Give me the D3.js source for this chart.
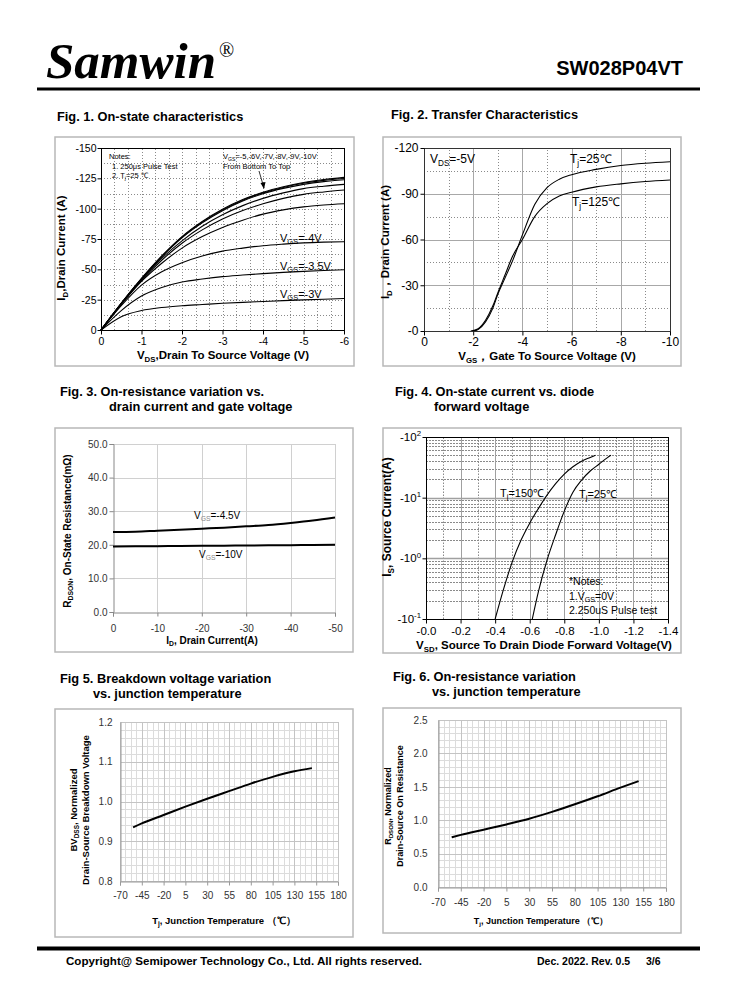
<!DOCTYPE html>
<html><head><meta charset="utf-8">
<script src="https://cdn.jsdelivr.net/npm/d3@7"></script>
<style>body{margin:0;background:#fff} svg{display:block}</style>
</head><body><script>
// ---------------- DATA ----------------
// Fig 1: On-state characteristics
const fig1Vds = [0,-0.5,-1,-1.5,-2,-2.5,-3,-3.5,-4,-4.5,-5,-5.5,-6];
const fig1IdVgs3   = [0,-11,-16,-18.5,-20,-21,-22,-22.8,-23.5,-24.2,-24.8,-25.4,-26];
const fig1IdVgs3p5 = [0,-16,-28,-35,-39.5,-42,-44,-45.3,-46.5,-47.5,-48.3,-49,-49.6];
const fig1IdVgs4   = [0,-20,-37,-48,-55.5,-61,-65,-67.5,-69.5,-70.8,-71.8,-72.4,-72.8];
const fig1IdVgs5   = [0,-21,-40,-55,-67.5,-77,-84.5,-90.5,-95.5,-99,-101.5,-103,-104];
const fig1IdVgs6   = [0,-21.5,-41,-57.5,-71.5,-82.5,-91.5,-98.5,-104,-108.5,-111.8,-113.8,-115.4];
const fig1IdVgs7   = [0,-21.8,-41.5,-59,-73.5,-85.5,-95,-102.5,-108.5,-113,-116.5,-118.5,-120];
const fig1IdVgs8   = [0,-22,-42,-60.3,-76,-88.3,-98.3,-106.3,-112.3,-116.7,-120,-122.3,-123.8];
const fig1IdVgs9   = [0,-22,-42.3,-60.7,-76.5,-89,-99,-107,-113,-117.5,-121,-123.3,-124.8];
const fig1IdVgs10  = [0,-22,-42.5,-61,-77,-89.5,-99.5,-107.5,-113.5,-118,-121.5,-124,-125.8];
const fig1XTicks = [0,-1,-2,-3,-4,-5,-6];
const fig1YTicks = [0,-25,-50,-75,-100,-125,-150];

// Fig 2: Transfer characteristics
const fig2Vgs25  = [-2,-2.2,-2.5,-2.8,-3,-3.3,-3.6,-4,-4.5,-5,-5.5,-6,-7,-8,-9,-10];
const fig2Id25   = [0,-1,-6,-15,-24,-35,-46,-63,-83,-94,-99.5,-102.5,-106,-108.5,-110,-111];
const fig2Vgs125 = [-1.9,-2.2,-2.5,-2.8,-3,-3.3,-3.6,-4,-4.5,-5,-5.5,-6,-7,-8,-9,-10];
const fig2Id125  = [0,-1.5,-7,-16.5,-25,-37,-49,-60,-75,-83.5,-88.5,-91,-94.5,-96.5,-98,-99];
const fig2XTicks = [0,-2,-4,-6,-8,-10];
const fig2YTicks = [0,-30,-60,-90,-120];

// Fig 3: On-resistance vs drain current
const fig3Id    = [0,-5,-10,-15,-20,-25,-30,-35,-40,-45,-50];
const fig3RVgs45 = [23.8,23.9,24.2,24.5,24.8,25.1,25.5,25.9,26.5,27.2,28.1];
const fig3RVgs10 = [19.5,19.55,19.6,19.65,19.7,19.75,19.8,19.85,19.9,19.95,20.0];
const fig3XTicks = [0,-10,-20,-30,-40,-50];
const fig3YTicks = [0,10,20,30,40,50];

// Fig 4: Diode forward characteristics
const fig4Vsd150 = [-0.4,-0.45,-0.5,-0.55,-0.6,-0.65,-0.7,-0.75,-0.8,-0.85,-0.9,-0.95,-0.98];
const fig4Is150  = [-0.1,-0.32,-0.89,-2.0,-3.8,-6.6,-11,-17,-24.5,-32.4,-40,-46,-50];
const fig4Vsd25  = [-0.615,-0.65,-0.7,-0.75,-0.8,-0.85,-0.9,-0.95,-1.0,-1.05,-1.07];
const fig4Is25   = [-0.1,-0.28,-0.93,-2.45,-6.0,-12.3,-19.5,-27.5,-35.5,-45.7,-50];
const fig4XTicks = [0,-0.2,-0.4,-0.6,-0.8,-1.0,-1.2,-1.4];
const fig4YTicks = [-0.1,-1,-10,-100];
const fig4YExp   = ["-1","0","1","2"];

// Fig 5: Breakdown voltage vs Tj
const fig5Tj = [-55,-45,-20,5,30,55,80,105,130,150];
const fig5BV = [0.935,0.945,0.966,0.987,1.007,1.026,1.045,1.062,1.076,1.084];
const fig5XTicks = [-70,-45,-20,5,30,55,80,105,130,155,180];
const fig5YTicks = [0.8,0.9,1.0,1.1,1.2];

// Fig 6: On-resistance vs Tj
const fig6Tj = [-55,-45,-20,5,30,55,80,105,130,150];
const fig6R  = [0.745,0.78,0.858,0.937,1.022,1.125,1.238,1.358,1.487,1.585];
const fig6XTicks = [-70,-45,-20,5,30,55,80,105,130,155,180];
const fig6YTicks = [0,0.5,1.0,1.5,2.0,2.5];

// ---------------- HELPERS ----------------
const SANS = 'Arial, "Liberation Sans", sans-serif';
const SERIF = '"Liberation Serif", "Times New Roman", serif';
const svg = d3.select('body').append('svg').attr('width',738).attr('height',1000).attr('font-family',SANS);

function rich(parent, x, y, parts, size, o={}) {
  const t = parent.append('text').attr('x',x).attr('y',y).attr('font-size',size)
    .attr('font-weight', o.bold ? 'bold' : 'normal')
    .attr('text-anchor', o.anchor || 'start').attr('fill', o.fill || '#000');
  if (o.rotate) t.attr('transform', `rotate(-90,${x},${y})`);
  let shift = 0;
  parts.forEach(p => {
    const arr = typeof p === 'string' ? [p, null, null] : p;
    const ts = t.append('tspan').text(arr[0]);
    const target = arr[1] === 'sub' ? size*0.22 : arr[1] === 'sup' ? -size*0.4 : 0;
    if (target - shift !== 0) ts.attr('dy', target - shift);
    shift = target;
    if (arr[1]) ts.attr('font-size', size*0.68);
    if (arr[2]) ts.attr('fill', arr[2]);
  });
  return t;
}
function title(x,y,s){ svg.append('text').attr('x',x).attr('y',y).attr('font-size',12.8).attr('font-weight','bold').text(s); }
function box(b){
  svg.append('rect').attr('x',b[0]).attr('y',b[1]).attr('width',b[2]-b[0]).attr('height',b[3]-b[1])
    .attr('fill','none').attr('stroke','#b8b8b8').attr('stroke-width',1.5);
}
function vgrid(g,x,y,vals,stroke,dash,w){
  g.append('g').selectAll('line').data(vals).join('line')
    .attr('x1',d=>Math.round(x(d))+0.5).attr('x2',d=>Math.round(x(d))+0.5)
    .attr('y1',y.range()[0]).attr('y2',y.range()[1])
    .attr('stroke',stroke).attr('stroke-width',w||1).attr('stroke-dasharray',dash||null);
}
function hgrid(g,x,y,vals,stroke,dash,w){
  g.append('g').selectAll('line').data(vals).join('line')
    .attr('y1',d=>Math.round(y(d))+0.5).attr('y2',d=>Math.round(y(d))+0.5)
    .attr('x1',x.range()[0]).attr('x2',x.range()[1])
    .attr('stroke',stroke).attr('stroke-width',w||1).attr('stroke-dasharray',dash||null);
}
function styleAxis(ag,size,color,tickColor){
  ag.attr('font-family',SANS);
  ag.selectAll('text').attr('font-size',size).attr('fill',color||'#000');
  ag.selectAll('line').attr('stroke',tickColor||'#000');
}
function curve(g,x,y,xs,ys,w,c){
  const line = d3.line().x(d=>x(d[0])).y(d=>y(d[1])).curve(d3.curveMonotoneX);
  g.append('path').datum(d3.zip(xs,ys)).attr('d',line).attr('fill','none')
    .attr('stroke',c||'#000').attr('stroke-width',w).attr('stroke-linejoin','round');
}
const fmtInt = d => String(d);

// ---------------- HEADER / FOOTER ----------------
svg.append('text').attr('x',46).attr('y',78).attr('font-size',50).attr('font-weight','bold').attr('font-style','italic')
  .attr('font-family',SERIF).attr('textLength',170).attr('lengthAdjust','spacingAndGlyphs').text('Samwin');
svg.append('text').attr('x',219).attr('y',57).attr('font-size',20).attr('font-family',SERIF).text('®');
svg.append('text').attr('x',683).attr('y',75).attr('font-size',20).attr('font-weight','bold').attr('text-anchor','end').text('SW028P04VT');
svg.append('line').attr('x1',37).attr('x2',700).attr('y1',89).attr('y2',89).attr('stroke','#000').attr('stroke-width',3);
svg.append('line').attr('x1',37).attr('x2',700).attr('y1',948.5).attr('y2',948.5).attr('stroke','#000').attr('stroke-width',4);
svg.append('text').attr('x',66).attr('y',965).attr('font-size',11.6).attr('font-weight','bold').text('Copyright@ Semipower Technology Co., Ltd. All rights reserved.');
svg.append('text').attr('x',537).attr('y',965).attr('font-size',10.5).attr('font-weight','bold').text('Dec. 2022. Rev. 0.5');
svg.append('text').attr('x',646).attr('y',965).attr('font-size',10.5).attr('font-weight','bold').text('3/6');

// ---------------- FIG 1 ----------------
{
  title(57,121,'Fig. 1. On-state characteristics');
  box([55,137,354,366]);
  const g = svg.append('g');
  const x = d3.scaleLinear().domain([0,-6]).range([101,344]);
  const y = d3.scaleLinear().domain([0,-150]).range([330,148]);
  vgrid(g,x,y,d3.range(1,18).map(i=>-i/3),'#8a8a8a','1,2');
  hgrid(g,x,y,d3.range(1,12).map(i=>-i*12.5),'#8a8a8a','1,2');
  [fig1IdVgs3,fig1IdVgs3p5,fig1IdVgs4,fig1IdVgs5,fig1IdVgs6,fig1IdVgs7,fig1IdVgs8,fig1IdVgs9,fig1IdVgs10]
    .forEach(s => curve(g,x,y,fig1Vds,s,1.1));
  g.append('rect').attr('x',101.5).attr('y',148.5).attr('width',243).attr('height',182).attr('fill','none').attr('stroke','#000');
  const ay = g.append('g').attr('transform','translate(101.5,0)').call(d3.axisLeft(y).tickValues(fig1YTicks).tickSize(4).tickPadding(1).tickFormat(fmtInt));
  ay.select('.domain').remove(); styleAxis(ay,10.5);
  const ax = g.append('g').attr('transform','translate(0,330.5)').call(d3.axisBottom(x).tickValues(fig1XTicks).tickSize(4).tickPadding(3).tickFormat(fmtInt));
  ax.select('.domain').remove(); styleAxis(ax,10.5);
  rich(g,65,248,['I',['D','sub'],',Drain Current (A)'],11.5,{bold:true,anchor:'middle',rotate:true});
  rich(g,223,359,['V',['DS','sub'],',Drain To Source Voltage (V)'],11.5,{bold:true,anchor:'middle'});
  rich(g,109,159,['Notes:'],7.5);
  rich(g,112,168.5,['1. 250μs  Pulse Test'],7.5);
  rich(g,112,178,['2. T',['j','sub'],'=25 ℃'],7.5);
  rich(g,223,159,['V',['GS','sub'],'=-5,-6V,-7V,-8V,-9V,-10V'],7.5);
  rich(g,223,169,['From Bottom To Top'],7.5);
  g.append('line').attr('x1',259).attr('y1',171).attr('x2',264).attr('y2',188).attr('stroke','#000').attr('stroke-width',0.8);
  g.append('path').attr('d','M264,189 L260.5,183 L265.5,182 Z').attr('fill','#000');
  rich(g,280,242,['V',['GS','sub'],'=-4V'],11);
  rich(g,280,270,['V',['GS','sub'],'=-3.5V'],11);
  rich(g,280,298,['V',['GS','sub'],'=-3V'],11);
}

// ---------------- FIG 2 ----------------
{
  title(391,119,'Fig. 2. Transfer Characteristics');
  box([383,137,681,366]);
  const g = svg.append('g');
  const x = d3.scaleLinear().domain([0,-10]).range([424,670]);
  const y = d3.scaleLinear().domain([0,-120]).range([331,148]);
  vgrid(g,x,y,[-1,-3,-5,-7,-9],'#8a8a8a','1,2');
  hgrid(g,x,y,[-15,-45,-75,-105],'#8a8a8a','1,2');
  vgrid(g,x,y,[-2,-4,-6,-8],'#a8a8a8');
  hgrid(g,x,y,[-30,-60,-90],'#a8a8a8');
  curve(g,x,y,fig2Vgs25,fig2Id25,1.1);
  curve(g,x,y,fig2Vgs125,fig2Id125,1.1);
  g.append('rect').attr('x',424.5).attr('y',148.5).attr('width',246).attr('height',183).attr('fill','none').attr('stroke','#333');
  const ay = g.append('g').attr('transform','translate(424.5,0)').call(d3.axisLeft(y).tickValues(fig2YTicks).tickSize(4).tickPadding(2).tickFormat(d=>d===0?'-0':String(d)));
  ay.select('.domain').remove(); styleAxis(ay,12);
  const ax = g.append('g').attr('transform','translate(0,331.5)').call(d3.axisBottom(x).tickValues(fig2XTicks).tickSize(4).tickPadding(2).tickFormat(fmtInt));
  ax.select('.domain').remove(); styleAxis(ax,12);
  rich(g,389,242,['I',['D','sub'],'，Drain Current (A)'],11.5,{bold:true,anchor:'middle',rotate:true});
  rich(g,547,360,['V',['GS','sub'],'，Gate To Source Voltage (V)'],11.5,{bold:true,anchor:'middle'});
  rich(g,430,163,['V',['DS','sub'],'=-5V'],12);
  rich(g,570,163,['T',['j','sub'],'=25℃'],12);
  rich(g,572,206,['T',['j','sub'],'=125℃'],12);
}

// ---------------- FIG 3 ----------------
{
  title(60,396,'Fig. 3. On-resistance variation vs.');
  title(109,411,'drain current and gate voltage');
  box([55,428,353,652]);
  const g = svg.append('g');
  const x = d3.scaleLinear().domain([0,-50]).range([113,335]);
  const y = d3.scaleLinear().domain([0,50]).range([612,444]);
  vgrid(g,x,y,[-10,-20,-30,-40,-50],'#d0d0d0');
  hgrid(g,x,y,[10,20,30,40,50],'#d0d0d0');
  const ay = g.append('g').attr('transform','translate(113.5,0)').call(d3.axisLeft(y).tickValues(fig3YTicks).tickSize(4).tickPadding(2).tickFormat(d3.format('.1f')));
  ay.select('.domain').attr('stroke','#888'); styleAxis(ay,10,'#333','#888');
  const ax = g.append('g').attr('transform','translate(0,612.5)').call(d3.axisBottom(x).tickValues(fig3XTicks).tickSize(4).tickPadding(8).tickFormat(fmtInt));
  ax.select('.domain').attr('stroke','#888'); styleAxis(ax,10,'#333','#888');
  curve(g,x,y,fig3Id,fig3RVgs45,2);
  curve(g,x,y,fig3Id,fig3RVgs10,2);
  rich(g,71,531,['R',['DSON','sub'],', On-State Resistance(mΩ)'],10,{bold:true,anchor:'middle',rotate:true});
  rich(g,212,644,['I',['D','sub'],', Drain Current(A)'],10,{bold:true,anchor:'middle'});
  rich(g,194,519,['V',['GS','sub','#888'],'=-4.5V'],10);
  rich(g,199,558,['V',['GS','sub','#888'],'=-10V'],10);
}

// ---------------- FIG 4 ----------------
{
  title(395,396,'Fig. 4. On-state current vs. diode');
  title(434,411,'forward voltage');
  box([383,428,681,653]);
  const g = svg.append('g');
  const x = d3.scaleLinear().domain([0,-1.4]).range([426,668]);
  const y = d3.scaleLog().domain([-0.1,-100]).range([619,437]);
  const minorY = [];
  [-0.1,-1,-10].forEach(d => { for (let k=2;k<=9;k++) minorY.push(d*k); });
  vgrid(g,x,y,[-0.1,-0.3,-0.5,-0.7,-0.9,-1.1,-1.3],'#8a8a8a','1.5,1.5');
  hgrid(g,x,y,minorY,'#8a8a8a','2,1');
  vgrid(g,x,y,[-0.2,-0.4,-0.6,-0.8,-1.0,-1.2],'#a0a0a0');
  hgrid(g,x,y,[-1,-10],'#a0a0a0',null,1.5);
  curve(g,x,y,fig4Vsd150,fig4Is150,1.1);
  curve(g,x,y,fig4Vsd25,fig4Is25,1.1);
  g.append('rect').attr('x',426.5).attr('y',437.5).attr('width',242).attr('height',182).attr('fill','none').attr('stroke','#000');
  const ay = g.append('g').attr('transform','translate(426.5,0)').call(d3.axisLeft(y).tickValues(fig4YTicks).tickSize(4).tickPadding(1).tickFormat(''));
  ay.select('.domain').remove(); styleAxis(ay,11);
  fig4YTicks.forEach((v,i) => rich(g,421,y(v)+4,['-10',[fig4YExp[i],'sup']],11.5,{anchor:'end'}));
  const ax = g.append('g').attr('transform','translate(0,619.5)').call(d3.axisBottom(x).tickValues(fig4XTicks).tickSize(4).tickPadding(3).tickFormat(d=> (d===0?'-0.0':d3.format('.1f')(d).replace('−','-'))));
  ax.select('.domain').remove(); styleAxis(ax,11.5);
  rich(g,391,517,['I',['S','sub'],', Source Current(A)'],12,{bold:true,anchor:'middle',rotate:true});
  rich(g,544,649,['V',['SD','sub'],', Source To Drain Diode Forward Voltage(V)'],11.5,{bold:true,anchor:'middle'});
  rich(g,500,497,['T',['j','sub'],'=150℃'],11);
  rich(g,579,498,['T',['j','sub'],'=25℃'],11);
  rich(g,569,585,['*Notes:'],10.5);
  rich(g,569,600,['1.V',['GS','sub'],'=0V'],10.5);
  rich(g,569,614,['2.250uS Pulse test'],10.5);
}

// ---------------- FIG 5 ----------------
{
  title(60,683,'Fig 5. Breakdown voltage variation');
  title(93,698,'vs. junction temperature');
  box([55,709,353,937]);
  const g = svg.append('g');
  const x = d3.scaleLinear().domain([-70,180]).range([120,338]);
  const y = d3.scaleLinear().domain([0.8,1.2]).range([881,722]);
  vgrid(g,x,y,d3.range(0,41).map(i=>-70+i*6.25),'#dcdcdc');
  hgrid(g,x,y,d3.range(0,21).map(i=>0.8+i*0.02),'#dcdcdc');
  vgrid(g,x,y,fig5XTicks,'#c4c4c4');
  hgrid(g,x,y,fig5YTicks,'#c4c4c4');
  const ay = g.append('g').attr('transform','translate(120.5,0)').call(d3.axisLeft(y).tickValues(fig5YTicks).tickSize(0).tickPadding(8).tickFormat(d3.format('.1f')));
  ay.select('.domain').attr('stroke','#999'); styleAxis(ay,10,'#333','#999');
  const ax = g.append('g').attr('transform','translate(0,881.5)').call(d3.axisBottom(x).tickValues(fig5XTicks).tickSize(4).tickPadding(6).tickFormat(fmtInt));
  ax.select('.domain').attr('stroke','#999'); styleAxis(ax,10,'#333','#999');
  curve(g,x,y,fig5Tj,fig5BV,2);
  rich(g,77,810,['BV',['DSS','sub'],', Normalized'],9.5,{bold:true,anchor:'middle',rotate:true});
  rich(g,89,810,['Drain-Source Breakdown Voltage'],9.5,{bold:true,anchor:'middle',rotate:true});
  rich(g,224,924,['T',['j','sub'],', Junction Temperature （℃）'],9.5,{bold:true,anchor:'middle'});
}

// ---------------- FIG 6 ----------------
{
  title(393,681,'Fig. 6. On-resistance variation');
  title(432,696,'vs. junction temperature');
  box([383,708,681,933]);
  const g = svg.append('g');
  const x = d3.scaleLinear().domain([-70,180]).range([438,666]);
  const y = d3.scaleLinear().domain([0,2.5]).range([887,720]);
  vgrid(g,x,y,d3.range(0,41).map(i=>-70+i*6.25),'#dcdcdc');
  hgrid(g,x,y,d3.range(0,26).map(i=>i*0.1),'#dcdcdc');
  vgrid(g,x,y,fig6XTicks,'#c4c4c4');
  hgrid(g,x,y,fig6YTicks,'#c4c4c4');
  const ay = g.append('g').attr('transform','translate(438.5,0)').call(d3.axisLeft(y).tickValues(fig6YTicks).tickSize(0).tickPadding(11).tickFormat(d3.format('.1f')));
  ay.select('.domain').attr('stroke','#999'); styleAxis(ay,10,'#333','#999');
  const ax = g.append('g').attr('transform','translate(0,887.5)').call(d3.axisBottom(x).tickValues(fig6XTicks).tickSize(4).tickPadding(7).tickFormat(fmtInt));
  ax.select('.domain').attr('stroke','#999'); styleAxis(ax,10,'#333','#999');
  curve(g,x,y,fig6Tj,fig6R,2);
  rich(g,391,806,['R',['DSON','sub'],', Normalized'],9,{bold:true,anchor:'middle',rotate:true});
  rich(g,403,806,['Drain-Source On Resistance'],9,{bold:true,anchor:'middle',rotate:true});
  rich(g,541,924,['T',['j','sub'],', Junction Temperature （℃）'],9,{bold:true,anchor:'middle'});
}
</script></body></html>
